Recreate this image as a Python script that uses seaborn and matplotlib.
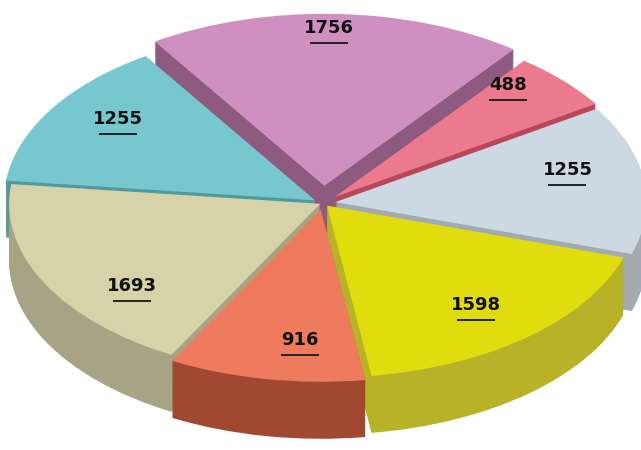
import matplotlib
matplotlib.use("Agg")
import matplotlib.pyplot as plt
import numpy as np
import seaborn as sns

# ── Data ──────────────────────────────────────────────────────────────────────
values = [1756, 488, 1255, 1598, 916, 1693, 1255]
labels = ["1756", "488", "1255", "1598", "916", "1693", "1255"]

top_colors = ["#CF8FC0", "#EC7A8E", "#CCD9E3", "#E1DC0E", "#EE7B5D", "#D8D2A8", "#76C8CE"]
side_colors = ["#8E5A80", "#B8475A", "#A3AAB0", "#B7B227", "#A04830", "#A8A385", "#4E9AA0"]
explode = [0.10, 0.05, 0.04, 0.02, 0.04, 0.01, 0.03]

# label placement inside each wedge: radius and fraction of the sweep
label_r = [0.92, 0.86, 0.77, 0.75, 0.76, 0.77, 0.79]
label_frac = [0.48, 0.15, 0.37, 0.51, 0.36, 0.34, 0.60]

# ── Geometry (pixels) ─────────────────────────────────────────────────────────
W, H = 641, 450
CX, CY = 323, 203      # pie centre, from top-left
RX, RY = 311, 172      # ellipse radii
DEPTH = 57             # thickness of the disc
N_LAYERS = 60
START = 123

sns.set_theme(style="white")
plt.rcParams["font.family"] = ["DejaVu Sans"]

fig = plt.figure(figsize=(W / 100, H / 100), dpi=100)
ax = fig.add_axes([0, 0, 1, 1])

pie_kw = dict(
    explode=explode,
    startangle=START,
    counterclock=False,
    wedgeprops=dict(linewidth=0),
)

# side faces: stack of darker pies going down
depth = DEPTH / RY
for z in np.linspace(-depth, 0, N_LAYERS)[:-1]:
    ax.pie(values, colors=side_colors, center=(0, z), **pie_kw)

# top faces
wedges, _ = ax.pie(values, colors=top_colors, center=(0, 0), **pie_kw)

ax.set_aspect("auto")
ax.set_xlim(-CX / RX, (W - CX) / RX)
ax.set_ylim(-(H - CY) / RY, CY / RY)
ax.axis("off")

# labels with a short underline (wedges run clockwise, so start at theta2)
for w, lab, r, f in zip(wedges, labels, label_r, label_frac):
    th = np.deg2rad(w.theta2 - f * (w.theta2 - w.theta1))
    cx, cy = w.center
    x = cx + r * np.cos(th)
    y = cy + r * np.sin(th)
    ax.text(x, y, lab, ha="center", va="center", fontsize=13,
            fontweight="bold", color="#111111")
    uy = y - 15 / RY
    hw = 19 / RX
    ax.plot([x - hw, x + hw], [uy, uy], color="#222222", linewidth=1.4,
            solid_capstyle="butt")

plt.savefig("out.png", dpi=100)
plt.close()
